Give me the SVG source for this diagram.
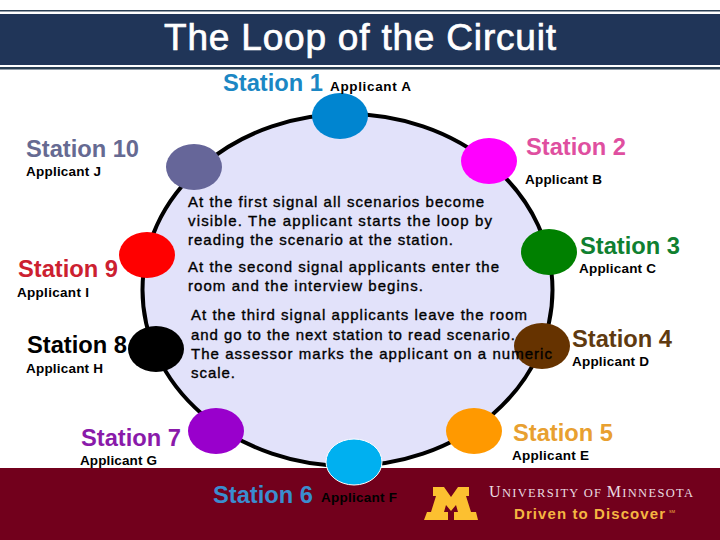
<svg xmlns="http://www.w3.org/2000/svg" width="720" height="540" viewBox="0 0 720 540">
<style>
text{font-family:"Liberation Sans",Arial,sans-serif}
.st{font-size:23.7px;font-weight:bold}
.ap{font-size:13.5px;font-weight:bold;fill:#000}
.bd{font-size:15px;fill:#000;stroke:#000;stroke-width:.35px}
.dot{rx:28px;ry:23px}
</style>
<rect width="720" height="540" fill="#fff"/>
<g id="header">
<rect x="0" y="10" width="720" height="1.5" fill="#2a3f54"/>
<rect x="0" y="14" width="720" height="51" fill="#203558"/>
<rect x="0" y="67" width="720" height="2.5" fill="#2a3f54"/>
<text x="164" y="50" font-size="37" fill="#fff" stroke="#fff" stroke-width=".7" textLength="392">The Loop of the Circuit</text>
</g>
<g id="connectors">
<ellipse cx="347.500" cy="290" rx="205" ry="176" fill="#e2e2fa" stroke="#000" stroke-width="4"/>
</g>
<g id="footer">
<rect x="0" y="468" width="720" height="72" fill="#72001c"/>
<path d="M433 487H444L451 497L458 487H469V496H466L471 512H476L478 520H454V512H458L456 505L451 511L446 505L444 512H448V520H424L427 512H431L436 496H433Z" fill="#fcc030"/>
<text x="489" y="497" fill="#eadbe0" textLength="204" style="font-family:'Liberation Serif',serif"><tspan font-size="16">U</tspan><tspan font-size="12.500">NIVERSITY OF </tspan><tspan font-size="16">M</tspan><tspan font-size="12.500">INNESOTA</tspan></text>
<text x="514" y="519" font-size="15" font-weight="bold" fill="#f5b642" textLength="151">Driven to Discover</text>
<text x="669" y="513" font-size="4" fill="#f5b642">SM</text>
</g>
<g id="station1"><ellipse class="dot" cx="340" cy="116" fill="#0085d0"/><text class="st" x="223" y="91" fill="#1b87c4">Station 1</text><text class="ap" x="330" y="91" textLength="81">Applicant A</text></g>
<g id="station2"><ellipse class="dot" cx="489" cy="161" fill="#ff00ff"/><text class="st" x="526" y="155" fill="#df4fa0">Station 2</text><text class="ap" x="525" y="184" textLength="77">Applicant B</text></g>
<g id="station3"><ellipse class="dot" cx="549" cy="252" fill="#008000"/><text class="st" x="580" y="254" fill="#108030">Station 3</text><text class="ap" x="579" y="273" textLength="77">Applicant C</text></g>
<g id="station4"><ellipse class="dot" cx="542" cy="346" fill="#663300"/><text class="st" x="572" y="347" fill="#5f3a10">Station 4</text><text class="ap" x="572" y="366" textLength="77">Applicant D</text></g>
<g id="station5"><ellipse class="dot" cx="474" cy="431" fill="#ff9900"/><text class="st" x="513" y="441" fill="#e8a030">Station 5</text><text class="ap" x="512" y="460" textLength="77">Applicant E</text></g>
<g id="station6"><ellipse class="dot" cx="354" cy="462" fill="#00b0f0" stroke="#fff"/><text class="st" x="213" y="503" fill="#3a8dcf">Station 6</text><text class="ap" x="321" y="502" textLength="76">Applicant F</text></g>
<g id="station7"><ellipse class="dot" cx="216" cy="431" fill="#9900cc"/><text class="st" x="81" y="446" fill="#8a1aaa">Station 7</text><text class="ap" x="80" y="465" textLength="77">Applicant G</text></g>
<g id="station8"><ellipse class="dot" cx="156" cy="349" fill="#000"/><text class="st" x="27" y="353" fill="#000">Station 8</text><text class="ap" x="26" y="373" textLength="77">Applicant H</text></g>
<g id="station9"><ellipse class="dot" cx="147" cy="255" fill="#f00"/><text class="st" x="18" y="277" fill="#cc2030">Station 9</text><text class="ap" x="17" y="297" textLength="72">Applicant I</text></g>
<g id="station10"><ellipse class="dot" cx="194" cy="167" fill="#666699"/><text class="st" x="26" y="157" fill="#666a92" textLength="113">Station 10</text><text class="ap" x="26" y="176" textLength="75">Applicant J</text></g>
<g id="notes">
<text class="bd" x="188" y="207" textLength="296">At the first signal all scenarios become</text>
<text class="bd" x="188" y="226" textLength="304">visible.  The applicant starts the loop by</text>
<text class="bd" x="188" y="245" textLength="265">reading the scenario at the station.</text>
<text class="bd" x="188" y="272" textLength="311">At the second signal applicants enter the</text>
<text class="bd" x="188" y="291" textLength="235">room and the interview begins.</text>
<text class="bd" x="191" y="320" textLength="336">At the third signal applicants leave the room</text>
<text class="bd" x="191" y="340" textLength="324">and go to the next station to read scenario.</text>
<text class="bd" x="191" y="359" textLength="361">The assessor marks the applicant on a numeric</text>
<text class="bd" x="191" y="378" textLength="44">scale.</text>
</g>
</svg>
